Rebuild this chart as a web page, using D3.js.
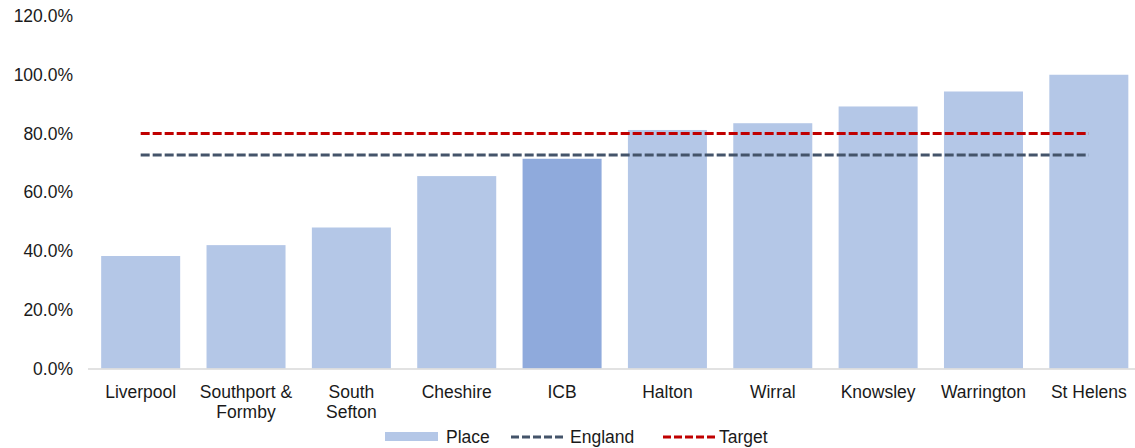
<!DOCTYPE html>
<html>
<head>
<meta charset="utf-8">
<script src="https://cdn.jsdelivr.net/npm/d3@7"></script>
<style>
  html, body { margin: 0; padding: 0; background: #fff; }
  svg { display: block; font-family: "Liberation Sans", Arial, sans-serif; }
</style>
</head>
<body>
<svg id="chart" width="1135" height="448"></svg>
<script>
const categories = ["Liverpool", "Southport & Formby", "South Sefton", "Cheshire", "ICB", "Halton", "Wirral", "Knowsley", "Warrington", "St Helens"];
const placeValues = [0.383, 0.420, 0.480, 0.655, 0.714, 0.812, 0.835, 0.892, 0.943, 1.000];
const englandValue = 0.727;
const targetValue = 0.80;
const yTicks = [0, 0.2, 0.4, 0.6, 0.8, 1.0, 1.2];
const categoryLines = [["Liverpool"], ["Southport &", "Formby"], ["South", "Sefton"], ["Cheshire"], ["ICB"], ["Halton"], ["Wirral"], ["Knowsley"], ["Warrington"], ["St Helens"]];
const highlight = "ICB";

const svg = d3.select("#chart");
const x = d3.scaleBand().domain(categories).range([88, 1141.5]).paddingInner(0.25).paddingOuter(0.125);
const y = d3.scaleLinear().domain([0, 1.2]).range([368.5, 16]);

const fontSize = 17.5;
const textColor = "#1a1a1a";

// y axis labels
const yAxis = d3.axisLeft(y).tickValues(yTicks).tickFormat(d3.format(".1%")).tickSize(0).tickPadding(0);
const yg = svg.append("g").attr("transform", "translate(73,0)").call(yAxis);
yg.select(".domain").remove();
yg.selectAll("text").attr("font-size", fontSize).attr("fill", textColor).attr("font-family", "Liberation Sans, Arial, sans-serif");

// bars
svg.append("g").selectAll("rect").data(categories).join("rect")
  .attr("x", d => x(d))
  .attr("width", x.bandwidth())
  .attr("y", (d, i) => y(placeValues[i]))
  .attr("height", (d, i) => y(0) - y(placeValues[i]))
  .attr("fill", d => d === highlight ? "#8faadc" : "#b4c7e7");

// x axis baseline
svg.append("line")
  .attr("x1", 88).attr("x2", 1135)
  .attr("y1", y(0) + 0.5).attr("y2", y(0) + 0.5)
  .attr("stroke", "#d9d9d9").attr("stroke-width", 1.5);

// x labels
const xl = svg.append("g");
categories.forEach((c, i) => {
  const t = xl.append("text")
    .attr("x", x(c) + x.bandwidth() / 2)
    .attr("y", 398)
    .attr("text-anchor", "middle")
    .attr("font-size", fontSize)
    .attr("fill", textColor);
  categoryLines[i].forEach((ln, j) => {
    t.append("tspan").attr("x", x(c) + x.bandwidth() / 2).attr("dy", j === 0 ? 0 : 20).text(ln);
  });
});

// reference lines
const x1 = x(categories[0]) + x.bandwidth() / 2;
const x2 = x(categories[categories.length - 1]) + x.bandwidth() / 2;
const refs = [
  { name: "England", value: englandValue, color: "#44546a" },
  { name: "Target", value: targetValue, color: "#c00000" }
];
svg.append("g").selectAll("line").data(refs).join("line")
  .attr("x1", x1).attr("x2", x2)
  .attr("y1", d => y(d.value)).attr("y2", d => y(d.value))
  .attr("stroke", d => d.color)
  .attr("stroke-width", 3)
  .attr("stroke-dasharray", "9,3");

// legend
const lg = svg.append("g");
lg.append("rect").attr("x", 385).attr("y", 432).attr("width", 53).attr("height", 9).attr("fill", "#b4c7e7");
lg.append("text").attr("x", 446).attr("y", 443).attr("font-size", fontSize).attr("fill", textColor).text("Place");
const legLines = [
  { x: 511, tx: 570, d: refs[0] },
  { x: 663, tx: 719, d: refs[1] }
];
legLines.forEach(l => {
  lg.append("line").attr("x1", l.x).attr("x2", l.x + 54).attr("y1", 437).attr("y2", 437)
    .attr("stroke", l.d.color).attr("stroke-width", 3).attr("stroke-dasharray", "8,3");
  lg.append("text").attr("x", l.tx).attr("y", 443).attr("font-size", fontSize).attr("fill", textColor).text(l.d.name);
});
</script>
</body>
</html>
